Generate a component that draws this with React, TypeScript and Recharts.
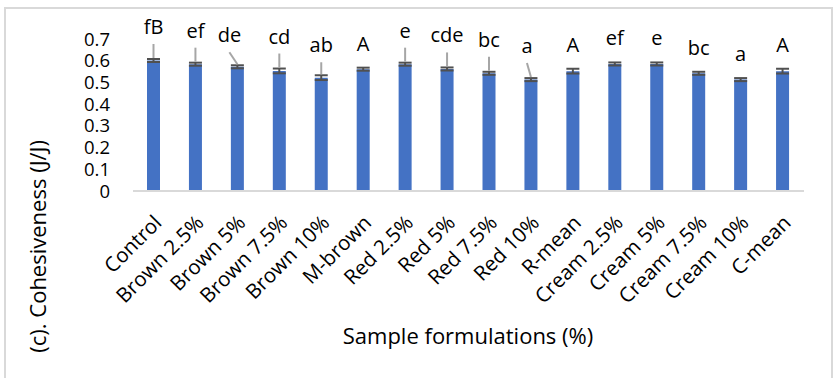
import React from "react";
import { BarChart, Bar, XAxis, YAxis, ErrorBar, LabelList } from "recharts";

const categories = [
  "Control", "Brown 2.5%", "Brown 5%", "Brown 7.5%", "Brown 10%", "M-brown",
  "Red 2.5%", "Red 5%", "Red 7.5%", "Red 10%", "R-mean",
  "Cream 2.5%", "Cream 5%", "Cream 7.5%", "Cream 10%", "C-mean",
];
const cohesiveness = [0.601, 0.584, 0.572, 0.553, 0.522, 0.561, 0.584, 0.562, 0.542, 0.513, 0.552, 0.585, 0.585, 0.542, 0.513, 0.552];
const errors = [0.007, 0.007, 0.007, 0.011, 0.011, 0.007, 0.007, 0.007, 0.007, 0.007, 0.011, 0.007, 0.007, 0.007, 0.007, 0.011];
const letters = ["fB", "ef", "de", "cd", "ab", "A", "e", "cde", "bc", "a", "A", "ef", "e", "bc", "a", "A"];
const yTicks = [0, 0.1, 0.2, 0.3, 0.4, 0.5, 0.6, 0.7];

// label placement tweaks (px): extra lift above bar & sideways shift, as in the original
const labelLift = [8, 8, 6, 8, 6, 0, 8, 8, 8, 8, 0, 0, 0, 0, 0, 0];
const labelShift = [0, 0, -8, 0, 0, 0, 0, 0, 0, -4, 0, 0, 0, 0, 0, 0];

const data = categories.map((name, i) => ({
  name,
  value: cohesiveness[i],
  err: errors[i],
  letter: letters[i],
}));

const FONT = "'Open Sans', sans-serif";

function CategoryTick(props: any) {
  const { x, y, payload } = props;
  return (
    <g transform={`translate(${x + 9},${y + 25})`}>
      <text textAnchor="end" transform="rotate(-45)" fontFamily={FONT} fontSize={20.5} fill="#000">
        {payload.value}
      </text>
    </g>
  );
}

function LetterLabel(props: any) {
  const { x, y, width, height, value, index } = props;
  const cx = x + width / 2;
  const v = cohesiveness[index];
  const errPx = v > 0 ? (errors[index] * height) / v : 0;
  const capTop = y - errPx - 1;
  const lift = labelLift[index];
  const base = capTop - 16 - lift;
  const lx = cx + labelShift[index];
  return (
    <g>
      {lift > 0 && (
        <line x1={lx} y1={base + 10} x2={cx} y2={capTop} stroke="#a6a6a6" strokeWidth={2} />
      )}
      <text x={lx} y={base} textAnchor="middle" fontFamily={FONT} fontSize={20} fill="#000">
        {value}
      </text>
    </g>
  );
}

export default function App() {
  return (
    <div style={{ position: "absolute", left: 0, top: 0, width: 833, height: 378, background: "#fff", overflow: "hidden" }}>
      <div
        style={{
          position: "absolute",
          left: 4,
          top: 7,
          width: 825,
          height: 400,
          borderTop: "2px solid #d9d9d9",
          borderLeft: "2px solid #d9d9d9",
          borderRight: "2px solid #d9d9d9",
        }}
      />
      <div style={{ position: "absolute", left: 0, top: 0 }}>
        <BarChart
          width={833}
          height={378}
          data={data}
          margin={{ top: 39, right: 29, bottom: 37, left: 73 }}
          barSize={13}
        >
          <XAxis
            dataKey="name"
            interval={0}
            tickLine={false}
            axisLine={{ stroke: "#d9d9d9", strokeWidth: 2 }}
            height={150}
            tick={<CategoryTick />}
          />
          <YAxis
            width={60}
            domain={[0, 0.7]}
            ticks={yTicks}
            interval={0}
            axisLine={false}
            tickLine={false}
            tickSize={0}
            tickMargin={23}
            tickFormatter={(v: number) => String(v)}
            tick={{ fontFamily: FONT, fontSize: 18.5, fill: "#000" }}
          />
          <Bar dataKey="value" fill="#4472c4" isAnimationActive={false}>
            <ErrorBar dataKey="err" width={6.5} stroke="#505050" strokeWidth={2} direction="y" />
            <LabelList dataKey="letter" content={<LetterLabel />} />
          </Bar>
        </BarChart>
      </div>
      <svg width={833} height={378} style={{ position: "absolute", left: 0, top: 0, pointerEvents: "none" }}>
        <text
          transform="translate(46,140) rotate(-90)"
          textAnchor="end"
          fontFamily={FONT}
          fontSize={22}
          fill="#000"
        >
          (c). Cohesiveness (J/J)
        </text>
        <text x={468} y={344} textAnchor="middle" fontFamily={FONT} fontSize={22} fill="#000">
          Sample formulations (%)
        </text>
      </svg>
    </div>
  );
}
